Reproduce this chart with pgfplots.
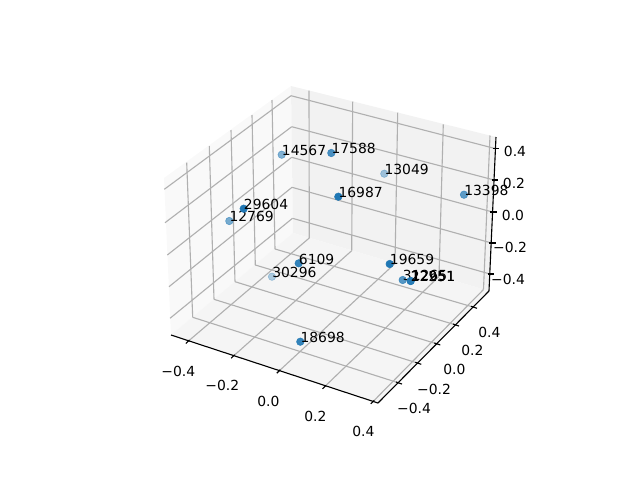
\documentclass[border=0pt]{standalone}
\usepackage{pgfplots}
\pgfplotsset{compat=1.18}
\usepackage{fontspec}
\setmainfont{DejaVu Sans}
\definecolor{mblue}{HTML}{1F77B4}
\definecolor{gridc}{HTML}{B0B0B0}
\newcommand\seg[4]{\addplot[color=gridc,line width=0.8bp,forget plot] coordinates {(#1,#2) (#3,#4)};}
\newcommand\axl[4]{\addplot[color=black,line width=0.8bp,forget plot] coordinates {(#1,#2) (#3,#4)};}
\newcommand\pane[9]{\addplot[draw=none,fill=#1,forget plot] coordinates {(#2,#3) (#4,#5) (#6,#7) (#8,#9)} -- cycle;}
% one scatter point: x, y, alpha, label
\newcommand\pt[4]{\addplot[only marks,mark=*,mark size=2.7bp,color=mblue,opacity=#3,
  nodes near coords={#4},
  every node near coord/.style={anchor=base west,inner sep=0pt,yshift=-0.7bp,text=black,text opacity=1,font=\fontsize{10bp}{12bp}\selectfont}]
  coordinates {(#1,#2)};}
% one tick label: x, y, text
\newcommand\tl[3]{\addplot[only marks,mark=none,
  nodes near coords={#3},
  every node near coord/.style={anchor=center,inner sep=0pt,yshift=-0.7bp,text=black,font=\fontsize{10bp}{12bp}\selectfont}]
  coordinates {(#1,#2)};}
\begin{document}
\begin{tikzpicture}
\useasboundingbox (0,0) rectangle (6.4in,4.8in);
\begin{axis}[at={(0,0)},anchor=south west,scale only axis,width=6.4in,height=4.8in,xmin=0,xmax=640,ymin=0,ymax=480,y dir=reverse,hide axis,clip=false]
% panes
\pane{black!2.5}{164}{178}{291}{86}{293}{233}{171}{335}
\pane{black!5}{291}{86}{496}{137}{489}{291}{293}{233}
\pane{black!3.75}{171}{335}{293}{233}{489}{291}{378}{403}
% floor: lines of constant x
\seg{187.3}{342}{309.3}{238}
\seg{232.7}{356.7}{351.7}{250.7}
\seg{278.3}{371.7}{395}{263.5}
\seg{324}{387.3}{439}{276.5}
\seg{372.3}{402.3}{483.5}{289.5}
% floor: lines of constant y
\seg{399}{383}{192.7}{317.3}
\seg{418.3}{363.3}{214}{299.3}
\seg{437.3}{344}{235}{281.7}
\seg{456}{325}{255.3}{265}
\seg{474}{307.3}{275}{249}
% back wall verticals
\seg{309.3}{238}{309}{90.7}
\seg{351.7}{250.7}{352.7}{101.7}
\seg{395}{263.5}{397.7}{112.7}
\seg{439}{276.5}{443.3}{124.3}
\seg{483.5}{289.5}{490}{135.5}
% left wall verticals
\seg{192.7}{317.3}{186.7}{162.7}
\seg{214}{299.3}{209.3}{146}
\seg{235}{281.7}{231}{130}
\seg{255.3}{265}{252}{115}
\seg{275}{249}{272}{100}
% z grid lines
\seg{164.3}{189.3}{291}{95.7}\seg{291}{95.7}{495}{148.5}
\seg{165}{222.7}{291.7}{126.7}\seg{291.7}{126.7}{494}{180}
\seg{167.3}{255}{291.7}{157.3}\seg{291.7}{157.3}{492.5}{212}
\seg{169}{286.7}{292}{187.3}\seg{292}{187.3}{491.5}{243}
\seg{170}{318.3}{292.5}{218.3}\seg{292.5}{218.3}{490}{274}
% axis lines
\axl{171}{335}{378}{403}
\axl{378}{403}{489}{291}
\axl{489}{291}{496}{137}
% ticks
\axl{185.8}{343.5}{189.3}{340}
\axl{231.2}{358.2}{234.7}{354.7}
\axl{276.8}{373.2}{280.3}{369.7}
\axl{322.5}{388.8}{326}{385.3}
\axl{370.8}{403.8}{374.3}{400.3}
\axl{396}{382}{402}{384}
\axl{415.3}{362.3}{421.3}{364.3}
\axl{434.3}{343}{440.3}{345}
\axl{453}{324}{459}{326}
\axl{471}{306.3}{477}{308.3}
\axl{493}{148.5}{499.5}{148.5}
\axl{492}{180}{498.5}{180}
\axl{490.5}{212}{497}{212}
\axl{489.5}{243}{496}{243}
\axl{488}{274}{494.5}{274}
% tick labels
\tl{178.3}{370}{−0.4}\tl{222.3}{384}{−0.2}\tl{268.3}{400}{0.0}\tl{315.3}{415}{0.2}\tl{363.3}{430.7}{0.4}
\tl{414}{407}{−0.4}\tl{434}{388}{−0.2}\tl{454.3}{368.3}{0.0}\tl{472.3}{349}{0.2}\tl{489.3}{331}{0.4}
\tl{508}{278}{−0.4}\tl{510}{246}{−0.2}\tl{513}{214}{0.0}\tl{514}{182}{0.2}\tl{515}{150}{0.4}
% points
\pt{272}{276.7}{.35}{30296}
\pt{384.3}{173.7}{.4}{13049}
\pt{281.7}{154.7}{.55}{14567}
\pt{229.3}{221}{.6}{12769}
\pt{464}{194.7}{.7}{13398}
\pt{402.7}{280}{.75}{31265}
\pt{410.7}{281}{.8}{12251}
\pt{410.7}{281}{.8}{22951}
\pt{331.3}{153}{.8}{17588}
\pt{298.7}{263.3}{.9}{6109}
\pt{300.3}{341.7}{.9}{18698}
\pt{243.7}{208.7}{1}{29604}
\pt{338.3}{196.7}{1}{16987}
\pt{389.7}{264}{1}{19659}
\end{axis}
\end{tikzpicture}
\end{document}
